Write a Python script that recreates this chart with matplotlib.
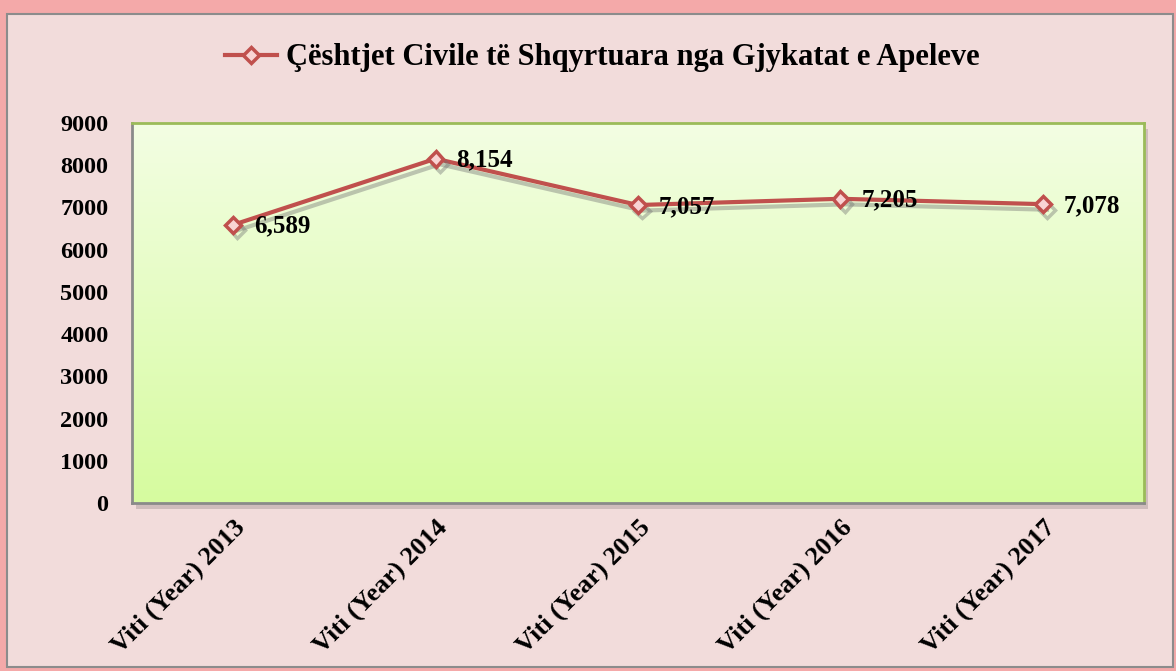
import numpy as np
import matplotlib
matplotlib.use("Agg")
import matplotlib.pyplot as plt
import matplotlib.patches as patches
import matplotlib.patheffects as pe
from matplotlib.lines import Line2D
from matplotlib.colors import LinearSegmentedColormap

# Appeal court civil cases, per year
years = ["Viti (Year) 2013", "Viti (Year) 2014", "Viti (Year) 2015",
         "Viti (Year) 2016", "Viti (Year) 2017"]
cases = [6589, 8154, 7057, 7205, 7078]
yticks = [0, 1000, 2000, 3000, 4000, 5000, 6000, 7000, 8000, 9000]
title = "Çështjet Civile të Shqyrtuara nga Gjykatat e Apeleve"

RED = "#c0504d"
W, H = 1176, 671

plt.rcParams["font.family"] = ["Liberation Serif", "DejaVu Serif"]
plt.rcParams["font.weight"] = "bold"

fig = plt.figure(figsize=(W / 100, H / 100), dpi=100)
fig.patch.set_facecolor("#f4a9a9")

# chart frame: pink fill with a gray border inside the red glow
fig.patches.append(patches.Rectangle(
    (7 / W, 1 - 667 / H), (1173 - 7) / W, (667 - 14) / H,
    transform=fig.transFigure, facecolor="#f2dcdb", edgecolor="#8c8c8c",
    linewidth=1.5, zorder=0))

left, right, top, bottom = 132, 1144, 123, 503
ax_rect = [left / W, 1 - bottom / H, (right - left) / W, (bottom - top) / H]

# drop shadow behind the plot area
fig.patches.append(patches.Rectangle(
    ((left + 4) / W, 1 - (bottom + 6) / H), (right - left) / W, (bottom - top) / H,
    transform=fig.transFigure, facecolor="#b8a8a8", edgecolor="none",
    alpha=0.6, zorder=0.5))

ax = fig.add_axes(ax_rect)
ax.set_zorder(2)
ax.set_xlim(-0.5, len(years) - 0.5)
ax.set_ylim(0, 9000)

# vertical gradient fill of the plot area
grad = LinearSegmentedColormap.from_list("g", ["#d6fb9f", "#f3fee3"])
ax.imshow(np.linspace(0, 1, 256).reshape(-1, 1), cmap=grad, origin="lower",
          extent=[-0.5, len(years) - 0.5, 0, 9000], aspect="auto", zorder=0)

x = np.arange(len(years))
ax.plot(x, cases, color=RED, lw=3, marker="D", ms=8, mfc="#f9d4d4",
        mec=RED, mew=2.5, zorder=3,
        path_effects=[pe.SimpleLineShadow(offset=(3, -4), shadow_color="#6f6f6f",
                                          alpha=0.4), pe.Normal()])

for xi, v in zip(x, cases):
    ax.annotate(f"{v:,}", (xi, v), xytext=(15, -1), textcoords="offset points",
                ha="left", va="center", fontsize=18, fontweight="bold", zorder=4)

ax.set_yticks(yticks)
ax.set_yticklabels([str(t) for t in yticks])
ax.set_xticks(x)
ax.set_xticklabels(years, rotation=45, ha="right", va="top",
                   rotation_mode="anchor")
ax.tick_params(axis="y", length=0, pad=17, labelsize=17.5)
ax.tick_params(axis="x", length=0, pad=9, labelsize=19)

for s in ("top", "right"):
    ax.spines[s].set_color("#9bbb59")
    ax.spines[s].set_linewidth(2)
for s in ("left", "bottom"):
    ax.spines[s].set_color("#8a8a8a")
    ax.spines[s].set_linewidth(2)

handle = Line2D([], [], color=RED, lw=3, marker="D", ms=8, mfc="#f9d4d4",
                mec=RED, mew=2.5)
fig.legend([handle], [title], loc="center", bbox_to_anchor=(602 / W, 1 - 58 / H),
           frameon=False, handlelength=1.7, handletextpad=0.3,
           prop={"weight": "bold", "size": 22})

fig.savefig("out.png", dpi=100, facecolor=fig.get_facecolor())
